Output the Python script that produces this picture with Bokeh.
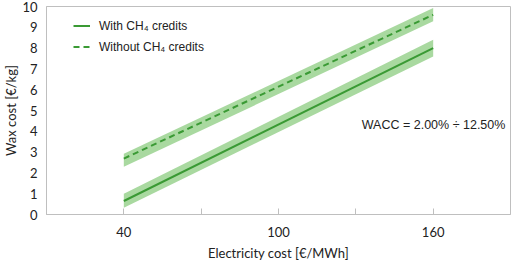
from bokeh.plotting import figure
from bokeh.models import Range1d, FixedTicker, Legend, LegendItem, Label
from bokeh.embed import file_html
from bokeh.resources import INLINE

# Data
electricity = [40, 160]
with_ch4 = [0.65, 8.0]
with_ch4_low = [0.33, 7.6]
with_ch4_high = [1.0, 8.4]
without_ch4 = [2.69, 9.6]
without_ch4_low = [2.29, 9.29]
without_ch4_high = [2.92, 9.93]
x_ticks = [40, 70, 100, 130, 160]
x_labels = {70: "", 130: ""}
y_ticks = [0, 1, 2, 3, 4, 5, 6, 7, 8, 9, 10]
x_title = "Electricity cost [€/MWh]"
y_title = "Wax cost [€/kg]"

LINE = "#3a9a34"
BAND = "#a9d9a0"
TXT = "#222222"

p = figure(width=512, height=263, output_backend="svg", toolbar_location=None,
           x_range=Range1d(10, 190), y_range=Range1d(0, 10),
           min_border_left=46, min_border_right=2, min_border_top=6, min_border_bottom=47)
p.background_fill_color = "white"
p.border_fill_color = "white"
p.outline_line_color = "#bfbfbf"
p.grid.visible = False

p.varea(x=electricity, y1=without_ch4_low, y2=without_ch4_high, fill_color=BAND, fill_alpha=1)
p.varea(x=electricity, y1=with_ch4_low, y2=with_ch4_high, fill_color=BAND, fill_alpha=1)
r1 = p.line(electricity, with_ch4, line_color=LINE, line_width=2)
r2 = p.line(electricity, without_ch4, line_color=LINE, line_width=2, line_dash="6 4")

xa = p.xaxis[0]
xa.ticker = FixedTicker(ticks=x_ticks)
xa.major_label_overrides = x_labels
xa.minor_tick_line_color = None
xa.major_tick_in = 6
xa.major_tick_out = 0
xa.major_tick_line_color = "#bfbfbf"
xa.axis_line_color = "#bfbfbf"
xa.major_label_standoff = 12
xa.axis_label = x_title
xa.axis_label_standoff = 5

ya = p.yaxis[0]
ya.ticker = FixedTicker(ticks=y_ticks)
ya.minor_tick_line_color = None
ya.major_tick_in = 0
ya.major_tick_out = 0
ya.axis_line_color = "#bfbfbf"
ya.major_label_standoff = 9
ya.axis_label = y_title
ya.axis_label_standoff = 0

for ax in (xa, ya):
    ax.major_label_text_font = "Lato"
    ax.major_label_text_font_size = "13px"
    ax.major_label_text_color = TXT
    ax.axis_label_text_font = "Lato"
    ax.axis_label_text_font_size = "13px"
    ax.axis_label_text_font_style = "normal"
    ax.axis_label_text_color = TXT

legend = Legend(items=[LegendItem(label="With CH₄ credits", renderers=[r1]),
                       LegendItem(label="Without CH₄ credits", renderers=[r2])],
                location=(27, 157), orientation="vertical",
                glyph_width=17, glyph_height=21, label_height=21, label_standoff=9,
                spacing=0, padding=0, margin=0,
                border_line_color=None, background_fill_alpha=0,
                label_text_font="Liberation Sans", label_text_font_size="12px",
                label_text_color=TXT)
p.add_layout(legend)

p.add_layout(Label(x=132.3, y=4.31, text="WACC = 2.00% ÷ 12.50%",
                   text_font="Liberation Sans", text_font_size="12.5px",
                   text_baseline="middle", text_align="left", text_color=TXT))

open("out.html", "w").write(file_html(p, INLINE))
